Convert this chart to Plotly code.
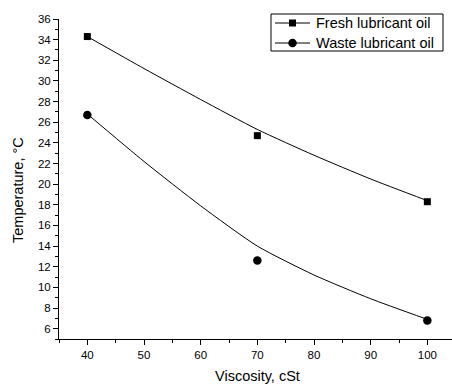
import plotly.graph_objects as go

viscosity = [40, 70, 100]
fresh_temp = [34.3, 24.7, 18.3]
waste_temp = [26.7, 12.6, 6.8]

fit_x = [40, 50, 60, 70, 80, 90, 100]
fresh_fit = [34.3, 31.2, 28.2, 25.3, 22.8, 20.5, 18.4]
waste_fit = [26.8, 22.2, 17.9, 14.0, 11.2, 8.9, 6.9]

series_names = ["Fresh lubricant oil", "Waste lubricant oil"]

x_ticks = [40, 50, 60, 70, 80, 90, 100]
y_ticks = list(range(6, 37, 2))

FONT = "Liberation Sans, Arial, sans-serif"
W, H = 452, 385
L, R, T, B = 59, 0, 19, 46
PW, PH = W - L - R, H - T - B


def px(x):
    return (x - L) / PW


def py(y):
    return (H - B - y) / PH


fig = go.Figure()
line_style = dict(color="black", width=1, shape="spline", smoothing=0.6)

fig.add_trace(go.Scatter(x=fit_x, y=fresh_fit, mode="lines", line=line_style,
                         showlegend=False, hoverinfo="skip"))
fig.add_trace(go.Scatter(x=fit_x, y=waste_fit, mode="lines", line=line_style,
                         showlegend=False, hoverinfo="skip"))
fig.add_trace(go.Scatter(x=viscosity, y=fresh_temp, mode="markers", name=series_names[0],
                         marker=dict(symbol="square", size=7, color="black"),
                         showlegend=False))
fig.add_trace(go.Scatter(x=viscosity, y=waste_temp, mode="markers", name=series_names[1],
                         marker=dict(symbol="circle", size=8.5, color="black"),
                         showlegend=False))

# legend box drawn as shapes + text
shapes = [
    dict(type="rect", xref="paper", yref="paper", x0=px(271), x1=px(443), y0=py(14), y1=py(51),
         line=dict(color="black", width=1), fillcolor="white", layer="above"),
]
annotations = []
rows = [23, 43]
for i, (name, yc) in enumerate(zip(series_names, rows)):
    shapes.append(dict(type="line", xref="paper", yref="paper", x0=px(275), x1=px(310),
                       y0=py(yc), y1=py(yc), line=dict(color="black", width=1), layer="above"))
    if i == 0:
        shapes.append(dict(type="rect", xref="paper", yref="paper",
                           x0=px(292.5 - 3.5), x1=px(292.5 + 3.5), y0=py(yc + 3.5), y1=py(yc - 3.5),
                           line=dict(width=0), fillcolor="black", layer="above"))
    else:
        shapes.append(dict(type="circle", xref="paper", yref="paper",
                           x0=px(292.5 - 4.25), x1=px(292.5 + 4.25), y0=py(yc + 4.25), y1=py(yc - 4.25),
                           line=dict(width=0), fillcolor="black", layer="above"))
    annotations.append(dict(text=name, xref="paper", yref="paper", x=px(314), y=py(yc),
                            xanchor="left", yanchor="middle", showarrow=False,
                            font=dict(size=14.5, family=FONT, color="black")))

annotations += [
    dict(text="Viscosity, cSt", xref="paper", yref="paper",
         x=px(257.5), y=py(376), xanchor="center", yanchor="middle",
         showarrow=False, font=dict(size=14.5, family=FONT, color="black")),
    dict(text="Temperature, °C", xref="paper", yref="paper", textangle=-90,
         x=px(18), y=py(190), xanchor="center", yanchor="middle",
         showarrow=False, font=dict(size=14.5, family=FONT, color="black")),
]

fig.update_layout(
    width=W, height=H,
    margin=dict(l=L, r=R, t=T, b=B),
    paper_bgcolor="white", plot_bgcolor="white",
    font=dict(family=FONT, size=11.5, color="black"),
    showlegend=False,
    shapes=shapes,
    annotations=annotations,
)
fig.update_xaxes(
    range=[35, 104.35], tickvals=x_ticks, ticktext=[str(v) for v in x_ticks],
    showline=True, linecolor="black", linewidth=1, showgrid=False, zeroline=False,
    ticks="outside", ticklen=5, tickcolor="black", tickwidth=1,
    minor=dict(dtick=5, tick0=35, ticks="outside", ticklen=3, tickcolor="black", showgrid=False),
    tickfont=dict(size=11.5, color="black"),
)
fig.update_yaxes(
    range=[5, 36], tickvals=y_ticks, ticktext=[str(v) for v in y_ticks],
    showline=True, linecolor="black", linewidth=1, showgrid=False, zeroline=False,
    ticks="outside", ticklen=5, tickcolor="black", tickwidth=1,
    minor=dict(dtick=1, tick0=5, ticks="outside", ticklen=3, tickcolor="black", showgrid=False),
    tickfont=dict(size=11.5, color="black"),
)

fig.write_html("out.html")
